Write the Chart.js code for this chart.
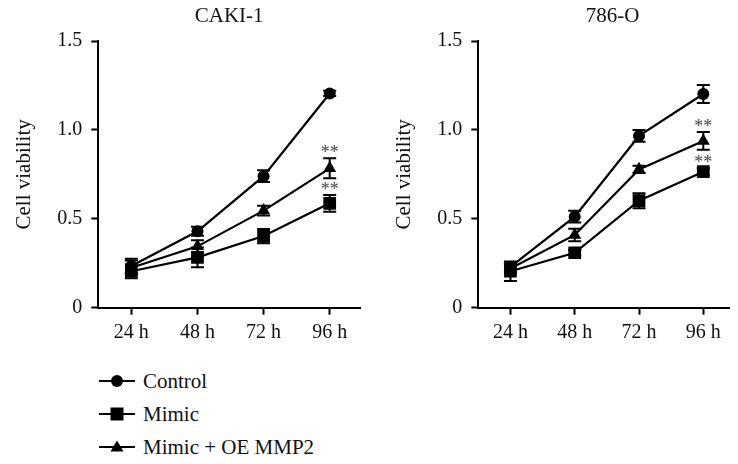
<!DOCTYPE html>
<html>
<head>
<meta charset="utf-8">
<script src="https://cdn.jsdelivr.net/npm/chart.js@4.4.0/dist/chart.umd.min.js"></script>
<style>
  html, body { margin: 0; padding: 0; background: #fff; width: 738px; height: 464px; overflow: hidden; }
  canvas { position: absolute; top: 0; }
  #chart-caki { left: 0; }
  #chart-786o { left: 369px; }
  .legende { position: absolute; left: 99px; font-family: 'Liberation Serif', serif; font-size: 21px; color: #111; }
  .ligne { position: absolute; left: 0; height: 25px; line-height: 25px; display: flex; align-items: center; white-space: nowrap; }
  .ligne svg { margin-right: 8px; }
</style>
</head>
<body>
<canvas id="chart-caki" width="369" height="340"></canvas>
<canvas id="chart-786o" width="369" height="340"></canvas>
<div class="legende" id="legende"></div>

<script>
/* ── Données ──────────────────────────────────────────────── */
const HEURES   = [24, 48, 72, 96];
const SERIES   = ['Control', 'Mimic', 'Mimic + OE MMP2'];
const Y_TICKS  = [0, 0.5, 1.0, 1.5];

/* CAKI-1 */
const CAKI_CONTROL     = [0.235, 0.430, 0.740, 1.205];
const CAKI_CONTROL_ERR = [0.040, 0.025, 0.033, 0.015];
const CAKI_MIMIC       = [0.205, 0.283, 0.403, 0.587];
const CAKI_MIMIC_ERR   = [0.040, 0.055, 0.040, 0.047];
const CAKI_OE          = [0.225, 0.345, 0.546, 0.784];
const CAKI_OE_ERR      = [0.040, 0.035, 0.027, 0.056];

/* 786-O */
const O786_CONTROL     = [0.230, 0.512, 0.966, 1.202];
const O786_CONTROL_ERR = [0.020, 0.033, 0.033, 0.051];
const O786_MIMIC       = [0.205, 0.309, 0.602, 0.765];
const O786_MIMIC_ERR   = [0.055, 0.015, 0.042, 0.020];
const O786_OE          = [0.220, 0.409, 0.778, 0.938];
const O786_OE_ERR      = [0.025, 0.035, 0.020, 0.050];

const POLICE = "'Liberation Serif', 'Times New Roman', serif";

/* ── Styles des marqueurs par série ───────────────────────── */
const STYLES = [
  { pointStyle: 'circle',   pointRadius: 6 },
  { pointStyle: 'rect',     pointRadius: 9 },
  { pointStyle: 'triangle', pointRadius: 7.5 },
];

/* ── Plugin : barres d'erreur + astérisques ───────────────── */
const pluginErreurs = {
  id: 'erreurs',
  afterDatasetsDraw(chart, args, opts) {
    const { ctx, scales: { x, y } } = chart;
    ctx.save();
    ctx.strokeStyle = '#000';
    ctx.lineWidth = 2;
    opts.erreurs.forEach((errs, d) => {
      const pts = chart.data.datasets[d].data;
      pts.forEach((p, i) => {
        const px = x.getPixelForValue(p.x);
        const hi = y.getPixelForValue(p.y + errs[i]);
        const lo = y.getPixelForValue(p.y - errs[i]);
        ctx.beginPath();
        ctx.moveTo(px, hi); ctx.lineTo(px, lo);
        ctx.moveTo(px - 6.5, hi); ctx.lineTo(px + 6.5, hi);
        ctx.moveTo(px - 6.5, lo); ctx.lineTo(px + 6.5, lo);
        ctx.stroke();
      });
    });
    /* ** au-dessus du dernier point */
    ctx.fillStyle = '#444';
    ctx.font = '18px ' + POLICE;
    ctx.textAlign = 'center';
    ctx.textBaseline = 'middle';
    opts.etoiles.forEach(d => {
      const pts = chart.data.datasets[d].data;
      const i = pts.length - 1;
      const px = x.getPixelForValue(pts[i].x);
      const hi = y.getPixelForValue(pts[i].y + opts.erreurs[d][i]);
      ctx.fillText('**', px, hi - 5);
    });
    ctx.restore();
  },
};

/* ── Plugin : décalage horizontal du titre ────────────────── */
const pluginDecalTitre = {
  id: 'decalTitre',
  afterLayout(chart, args, opts) {
    if (chart.titleBlock && opts.dx) {
      chart.titleBlock.left  += opts.dx;
      chart.titleBlock.right += opts.dx;
    }
  },
};

function construire(id, titre, valeurs, erreurs, cfg) {
  const datasets = valeurs.map((vals, d) => ({
    label           : SERIES[d],
    data            : HEURES.map((h, i) => ({ x: h, y: vals[i] })),
    borderColor     : '#000',
    backgroundColor : '#000',
    borderWidth     : 2.2,
    tension         : 0,
    pointStyle      : STYLES[d].pointStyle,
    pointRadius     : STYLES[d].pointRadius,
    pointBorderWidth: 0,
    pointBackgroundColor: '#000',
  }));

  return new Chart(document.getElementById(id), {
    type: 'line',
    data: { datasets },
    plugins: [pluginErreurs, pluginDecalTitre],
    options: {
      responsive : false,
      animation  : false,
      layout     : { padding: { left: 0, right: cfg.droite, top: 0, bottom: 0 } },
      plugins: {
        legend  : { display: false },
        tooltip : { enabled: false },
        title   : {
          display  : true,
          text     : titre,
          fullSize : false,
          color    : '#111',
          font     : { family: POLICE, size: 21, weight: 'normal' },
          padding  : { top: 4, bottom: 11.8 },
        },
        decalTitre : { dx: cfg.dxTitre },
        erreurs    : { erreurs, etoiles: [1, 2] },
      },
      scales: {
        x: {
          type : 'linear',
          min  : 12, max: cfg.xMax,
          afterBuildTicks: s => { s.ticks = HEURES.map(v => ({ value: v })); },
          afterFit: s => { s.height = 340 - 307.7; },
          grid  : { drawOnChartArea: false, drawTicks: true, tickLength: 7, tickWidth: 2, color: '#000' },
          border: { display: true, color: '#000', width: 2 },
          ticks : { color: '#111', padding: 6, font: { family: POLICE, size: 20 }, callback: v => v + ' h' },
        },
        y: {
          min  : 0, max: 1.5,
          afterBuildTicks: s => { s.ticks = Y_TICKS.map(v => ({ value: v })); },
          afterFit: s => { s.width = cfg.largeurY; },
          grid  : { drawOnChartArea: false, drawTicks: true, tickLength: 7, tickWidth: 2, color: '#000' },
          border: { display: true, color: '#000', width: 2 },
          ticks : { color: '#111', padding: 9, font: { family: POLICE, size: 20 },
                    callback: v => v === 0 ? '0' : v.toFixed(1) },
          title : {
            display : true,
            text    : 'Cell viability',
            color   : '#111',
            font    : { family: POLICE, size: 21 },
            padding : { top: cfg.padTitreY, bottom: 0 },
          },
        },
      },
    },
  });
}

construire('chart-caki', 'CAKI-1',
  [CAKI_CONTROL, CAKI_MIMIC, CAKI_OE],
  [CAKI_CONTROL_ERR, CAKI_MIMIC_ERR, CAKI_OE_ERR],
  { droite: 7, xMax: 107, largeurY: 98.3, padTitreY: 11.4, dxTitre: 0 });

construire('chart-786o', '786-O',
  [O786_CONTROL, O786_MIMIC, O786_OE],
  [O786_CONTROL_ERR, O786_MIMIC_ERR, O786_OE_ERR],
  { droite: 1, xMax: 105.6, largeurY: 109.3, padTitreY: 22.4, dxTitre: 9 });

/* ── Légende ──────────────────────────────────────────────── */
const SYMBOLES = [
  '<circle cx="18" cy="7" r="6"/>',
  '<rect x="11.5" y="0.5" width="13" height="13"/>',
  '<polygon points="18,0.5 24.5,11.5 11.5,11.5"/>',
];
const CENTRES_LEG = [381, 414, 447];
document.getElementById('legende').innerHTML = SERIES.map((nom, i) => `
  <div class="ligne" style="top:${CENTRES_LEG[i] - 12.5}px">
    <svg width="36" height="14" viewBox="0 0 36 14">
      <line x1="0" y1="7" x2="36" y2="7" stroke="#000" stroke-width="2"/>
      <g fill="#000">${SYMBOLES[i]}</g>
    </svg>${nom}
  </div>`).join('');
</script>
</body>
</html>
